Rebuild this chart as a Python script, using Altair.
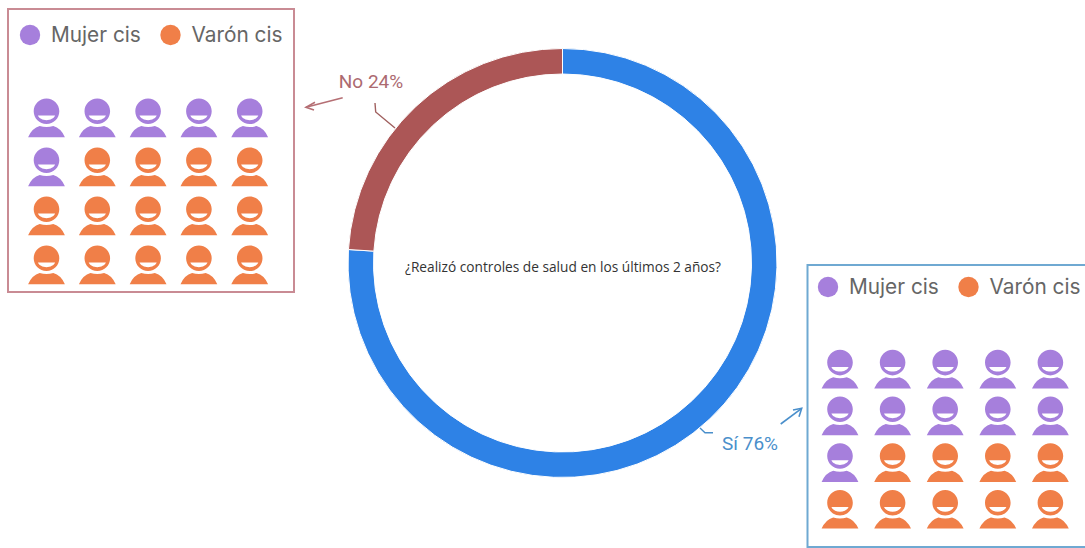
import altair as alt
import pandas as pd

WIDTH, HEIGHT = 1085, 548

# Survey answers, in percent
answers = ["Sí", "No"]
shares = [76, 24]
answer_colors = ["#2e82e6", "#ac5656"]
question = "¿Realizó controles de salud en los últimos 2 años?"

# Out of every 20 people in each answer group
groups = ["Mujer cis", "Varón cis"]
group_colors = ["#a67fdc", "#f07f48"]
no_counts = [6, 14]
si_counts = [11, 9]

# Person pictogram in unit coordinates (20 px per unit at the size used below):
# head with a smile cut out of it, plus shoulders.
PERSON = (
    "M-0.64 -0.335 A0.64 0.64 0 1 1 0.64 -0.335 A0.64 0.64 0 1 1 -0.64 -0.335 Z "
    "M-0.43 -0.12 A0.45 0.33 0 0 0 0.43 -0.12 Z "
    "M-0.92 0.96 Q-0.72 0.50 -0.34 0.40 Q0 0.50 0.34 0.40 Q0.72 0.50 0.92 0.96 Z"
)


def grid(counts, left, top, dx, dy):
    """Lay out one row-by-row pictogram of 5 columns."""
    labels = [g for g, n in zip(groups, counts) for _ in range(n)]
    return [
        {"x": left + dx * (i % 5), "y": top + dy * (i // 5), "grupo": g}
        for i, g in enumerate(labels)
    ]


people = pd.DataFrame(
    grid(no_counts, 46.5, 118, 50.8, 49) + grid(si_counts, 840, 369.3, 52.6, 46.7)
)

panels = pd.DataFrame(
    [
        {"x": 8, "x2": 294, "y": 9, "y2": 292, "c": "#c98b94"},
        {"x": 807.5, "x2": 1100, "y": 265, "y2": 547, "c": "#6fa9d2"},
    ]
)

legend_dots = pd.DataFrame(
    [
        {"x": 30, "y": 35, "grupo": groups[0]},
        {"x": 170.5, "y": 35, "grupo": groups[1]},
        {"x": 828, "y": 287, "grupo": groups[0]},
        {"x": 968.5, "y": 287, "grupo": groups[1]},
    ]
)
legend_text = legend_dots.assign(x=legend_dots["x"] + 21, y=legend_dots["y"] + 1)

donut = pd.DataFrame(
    {"respuesta": answers, "valor": shares, "orden": range(len(answers))}
)

# Leader lines and panel arrows, one polyline per id
polylines = {
    ("a", "#a0605f", 1.4): [(375, 103), (375.7, 112), (395, 128)],
    ("b", "#b56f74", 1.6): [(342.7, 97.7), (306, 107.3)],
    ("c", "#b56f74", 1.6): [(315, 102.3), (306, 107.3), (314, 110)],
    ("d", "#4a8fcb", 1.4): [(700, 428), (705, 432.7), (713, 432.7)],
    ("e", "#4a8fcb", 1.6): [(780.7, 424), (801.7, 408.3)],
    ("f", "#4a8fcb", 1.6): [(793, 410), (801.7, 408.3), (799, 416.7)],
}
lines = pd.DataFrame(
    [
        {"id": k[0], "c": k[1], "w": k[2], "i": i, "x": p[0], "y": p[1]}
        for k, pts in polylines.items()
        for i, p in enumerate(pts)
    ]
)

labels = pd.DataFrame(
    [
        {"x": 371, "y": 82, "t": f"{answers[1]} {shares[1]}%", "c": "#ac6a70"},
        {"x": 750, "y": 444, "t": f"{answers[0]} {shares[0]}%", "c": "#4a8fcb"},
    ]
)

x = alt.X("x:Q", scale=alt.Scale(domain=[0, WIDTH], nice=False, zero=False), axis=None)
y = alt.Y("y:Q", scale=alt.Scale(domain=[HEIGHT, 0], nice=False, zero=False), axis=None)
x2 = alt.X2("x2:Q")
y2 = alt.Y2("y2:Q")
group_color = alt.Color(
    "grupo:N", scale=alt.Scale(domain=groups, range=group_colors), legend=None
)

panel_layer = (
    alt.Chart(panels)
    .mark_rect(fill="white", strokeWidth=2, clip=True)
    .encode(x=x, x2=x2, y=y, y2=y2, stroke=alt.Stroke("c:N", scale=None))
)

ring = (
    alt.Chart(donut)
    .mark_arc(innerRadius=189, outerRadius=214.5, stroke="white", strokeWidth=1)
    .encode(
        theta=alt.Theta("valor:Q", stack=True),
        order=alt.Order("orden:Q"),
        color=alt.Color(
            "respuesta:N",
            scale=alt.Scale(domain=answers, range=answer_colors),
            legend=None,
        ),
        x=alt.value(562.5),
        y=alt.value(263),
    )
)

center = (
    alt.Chart(pd.DataFrame({"x": [563], "y": [268], "t": [question]}))
    .mark_text(font="Open Sans", fontSize=13.7, color="#333333")
    .encode(x=x, y=y, text="t:N")
)

line_layer = (
    alt.Chart(lines)
    .mark_line()
    .encode(
        x=x,
        y=y,
        order="i:Q",
        detail="id:N",
        color=alt.Color("c:N", scale=None),
        strokeWidth=alt.StrokeWidth("w:Q", scale=None),
    )
)

label_layer = (
    alt.Chart(labels)
    .mark_text(font="Roboto", fontSize=19)
    .encode(x=x, y=y, text="t:N", color=alt.Color("c:N", scale=None))
)

dots = (
    alt.Chart(legend_dots)
    .mark_point(shape="circle", filled=True, size=415, opacity=1)
    .encode(x=x, y=y, color=group_color)
)

legend_labels = (
    alt.Chart(legend_text)
    .mark_text(font="Inter", fontSize=20.8, align="left", color="#666666")
    .encode(x=x, y=y, text="grupo:N")
)

person_layer = (
    alt.Chart(people)
    .mark_point(shape=PERSON, filled=True, size=1600, opacity=1)
    .encode(x=x, y=y, color=group_color)
)

chart = (
    alt.layer(
        panel_layer,
        ring,
        center,
        line_layer,
        label_layer,
        dots,
        legend_labels,
        person_layer,
    )
    .resolve_scale(color="independent")
    .properties(
        width=WIDTH,
        height=HEIGHT,
        padding=0,
        autosize=alt.AutoSizeParams(type="none"),
        background="white",
    )
    .configure_view(stroke=None)
)

chart.save("out.html", embed_options={"renderer": "svg", "actions": False})
